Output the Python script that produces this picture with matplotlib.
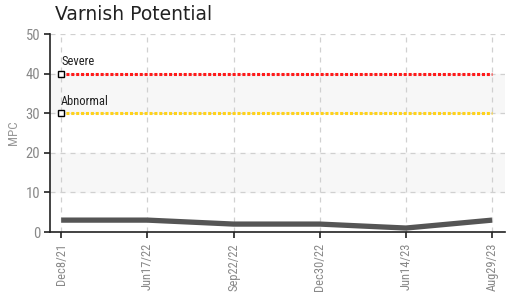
import numpy as np
import matplotlib.pyplot as plt

dates = ["Dec8/21", "Jun17/22", "Sep22/22", "Dec30/22", "Jun14/23", "Aug29/23"]
mpc = [3, 3, 2, 2, 1, 3]
severe = 40
abnormal = 30

narrow = ["Roboto Condensed", "Archivo Narrow", "DejaVu Sans"]

fig = plt.figure(figsize=(5.07, 2.97), dpi=100)
ax = fig.add_axes([50 / 507, 1 - 232 / 297, 455 / 507, 198 / 297])

x = np.arange(len(dates))

# alternating light bands
ax.axhspan(10, 20, color="#f7f7f7", zorder=0)
ax.axhspan(30, 40, color="#f7f7f7", zorder=0)

ax.plot(x, mpc, color="#555555", lw=3.8, solid_capstyle="butt", zorder=3)

ax.plot([x[0], x[-1]], [severe, severe], color="#ff1a1a", lw=2.2, ls=(0, (1, 0.6)), zorder=2)
ax.plot([x[0], x[-1]], [abnormal, abnormal], color="#ffd21a", lw=2.2, ls=(0, (1, 0.6)), zorder=2)
for val, lab in [(severe, "Severe"), (abnormal, "Abnormal")]:
    ax.plot(x[0], val, marker="s", ms=4, mfc="white", mec="black", mew=1, zorder=4)
    ax.text(x[0], val + 1.3, lab, fontsize=9, family=narrow, color="#222222",
            ha="left", va="bottom", zorder=4)

ax.set_xlim(-0.13, 5.15)
ax.set_ylim(0, 50)
ax.set_yticks([0, 10, 20, 30, 40, 50])
ax.set_xticks(x)
ax.set_xticklabels(dates, rotation=90)
ax.grid(True, color="#d0d0d0", ls=(0, (4, 4)), lw=0.9)
ax.set_axisbelow(True)

for s in ["top", "right"]:
    ax.spines[s].set_visible(False)
for s in ["left", "bottom"]:
    ax.spines[s].set_color("#222222")
    ax.spines[s].set_linewidth(1.2)

ax.tick_params(axis="y", length=4, width=1.2, color="#222222",
               labelcolor="#888888", labelsize=10.5, pad=3)
ax.tick_params(axis="x", length=4, width=1.2, color="#222222",
               labelcolor="#888888", labelsize=9, pad=4)
for t in ax.get_xticklabels() + ax.get_yticklabels():
    t.set_family(narrow)

ax.set_ylabel("MPC", color="#999999", fontsize=9.5, family=narrow, labelpad=4)

fig.text(55 / 507, 1 - 15 / 297, "Varnish Potential", fontsize=13.5, color="#222222",
         ha="left", va="center")

fig.savefig("out.png", dpi=100)
